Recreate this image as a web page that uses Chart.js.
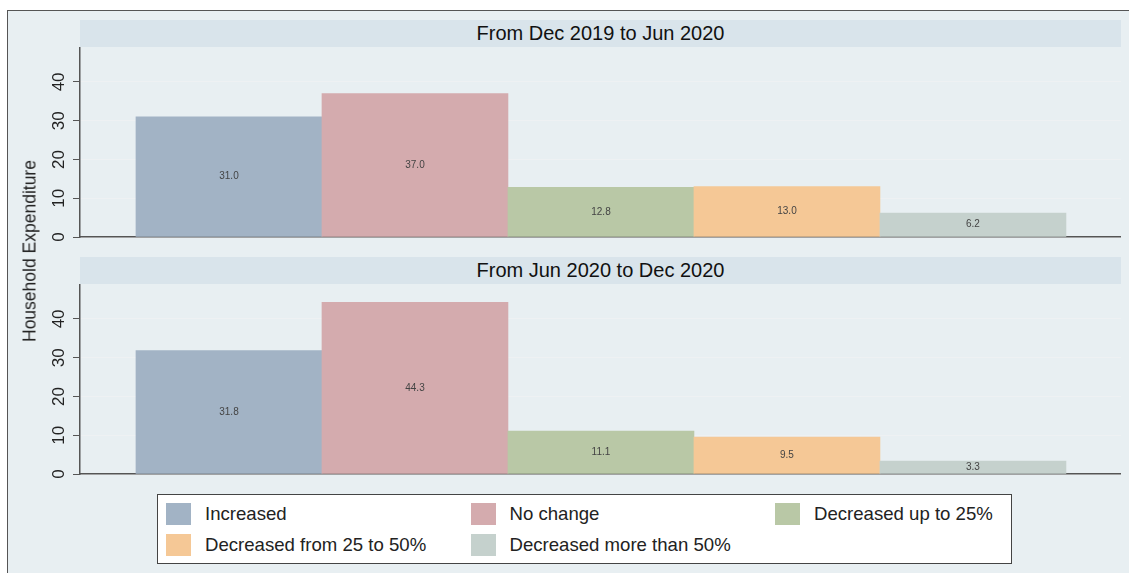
<!DOCTYPE html>
<html lang="en">
<head>
    <meta charset="UTF-8">
    <title>Household Expenditure</title>
    <style>
        body {
            margin: 0;
            background: #ffffff;
            font-family: "Liberation Sans", Arial, sans-serif;
        }
        #frame {
            position: absolute;
            left: 7px;
            top: 10px;
            width: 1122px;
            height: 563px;
            background: #e8eff2;
            border-left: 1.5px solid #555;
            border-top: 1.5px solid #555;
        }
        .strip {
            position: absolute;
            left: 80px;
            width: 1041px;
            height: 27px;
            background: #d9e4eb;
            color: #111;
            font-size: 20px;
            line-height: 27px;
            text-align: center;
        }
        .panel {
            position: absolute;
            left: 0;
            width: 1121px;
            height: 200px;
        }
        #ytitle {
            position: absolute;
            left: 30px;
            top: 251px;
            transform: translate(-50%, -50%) rotate(-90deg);
            white-space: nowrap;
            font-size: 17.5px;
            color: #222;
        }
        #legend {
            position: absolute;
            left: 157px;
            top: 494px;
            width: 853px;
            height: 68px;
            background: #fff;
            border: 1.5px solid #444;
        }
        .item {
            position: absolute;
            height: 22px;
            font-size: 18.6px;
            line-height: 22px;
            color: #222;
            white-space: nowrap;
        }
        .swatch {
            display: inline-block;
            width: 25px;
            height: 22px;
            vertical-align: top;
            margin-right: 14px;
        }
    </style>
    <script src="https://cdn.jsdelivr.net/npm/chart.js"></script>
</head>
<body>

<div id="frame"></div>
<div class="strip" style="top:20px" id="title1"></div>
<div class="strip" style="top:257px" id="title2"></div>
<div class="panel" style="top:47px"><canvas id="chartTop"></canvas></div>
<div class="panel" style="top:284px"><canvas id="chartBottom"></canvas></div>
<div id="ytitle">Household Expenditure</div>
<div id="legend"></div>

<script>
    // chart data
    const categories = ['Increased', 'No change', 'Decreased up to 25%', 'Decreased from 25 to 50%', 'Decreased more than 50%'];
    const colors = ['#a2b3c5', '#d4abae', '#b9c8a6', '#f5c896', '#c5d1cd'];
    const panelTitles = ['From Dec 2019 to Jun 2020', 'From Jun 2020 to Dec 2020'];
    const dec19ToJun20 = [31.0, 37.0, 12.8, 13.0, 6.2];
    const jun20ToDec20 = [31.8, 44.3, 11.1, 9.5, 3.3];
    const yTicks = [0, 10, 20, 30, 40];

    document.getElementById('title1').textContent = panelTitles[0];
    document.getElementById('title2').textContent = panelTitles[1];

    // value labels in the middle of each bar
    const barLabels = {
        id: 'barLabels',
        afterDatasetsDraw(chart) {
            const ctx = chart.ctx;
            const meta = chart.getDatasetMeta(0);
            ctx.save();
            ctx.font = '10px "Liberation Sans", Arial, sans-serif';
            ctx.fillStyle = '#444';
            ctx.textAlign = 'center';
            ctx.textBaseline = 'middle';
            meta.data.forEach((bar, i) => {
                const v = chart.data.datasets[0].data[i].y;
                ctx.fillText(v.toFixed(1), bar.x, (bar.y + bar.base) / 2);
            });
            ctx.restore();
        }
    };

    function makePanel(canvasId, values) {
        const ctx = document.getElementById(canvasId).getContext('2d');
        new Chart(ctx, {
            type: 'bar',
            data: {
                datasets: [{
                    data: values.map((v, i) => ({ x: i + 1, y: v })),
                    backgroundColor: colors,
                    borderWidth: 0,
                    barPercentage: 1,
                    categoryPercentage: 1
                }]
            },
            options: {
                responsive: true,
                maintainAspectRatio: false,
                animation: false,
                layout: { padding: { top: 0, right: 0, bottom: 10, left: 0 } },
                plugins: {
                    legend: { display: false },
                    tooltip: { enabled: false }
                },
                scales: {
                    x: {
                        type: 'linear',
                        offset: false,
                        min: 0.199,
                        max: 5.796,
                        afterBuildTicks: s => { s.ticks = categories.map((c, i) => ({ value: i + 1 })); },
                        ticks: { display: false },
                        grid: { display: true, offset: false, drawOnChartArea: false, drawTicks: false },
                        border: { display: true, color: '#555', width: 1.5 },
                        afterFit: s => { s.height = 0; s.paddingLeft = 0; s.paddingRight = 0; }
                    },
                    y: {
                        min: 0,
                        max: 49,
                        afterBuildTicks: s => { s.ticks = yTicks.map(v => ({ value: v })); },
                        afterFit: s => { s.width = 80; s.paddingTop = 0; s.paddingBottom = 0; },
                        ticks: {
                            minRotation: 90,
                            maxRotation: 90,
                            crossAlign: 'center',
                            padding: 4,
                            color: '#222',
                            font: { family: '"Liberation Sans", Arial, sans-serif', size: 17 }
                        },
                        grid: { color: '#eef1f3', tickColor: '#555', tickLength: 7 },
                        border: { display: true, color: '#555', width: 1.5 }
                    }
                }
            },
            plugins: [barLabels]
        });
    }

    makePanel('chartTop', dec19ToJun20);
    makePanel('chartBottom', jun20ToDec20);

    // legend box, three columns
    const legend = document.getElementById('legend');
    categories.forEach((name, i) => {
        const item = document.createElement('div');
        item.className = 'item';
        item.style.left = (8 + (i % 3) * 304.5) + 'px';
        item.style.top = (8 + Math.floor(i / 3) * 31) + 'px';
        item.innerHTML = '<span class="swatch" style="background:' + colors[i] + '"></span>' + name;
        legend.appendChild(item);
    });
</script>

</body>
</html>
